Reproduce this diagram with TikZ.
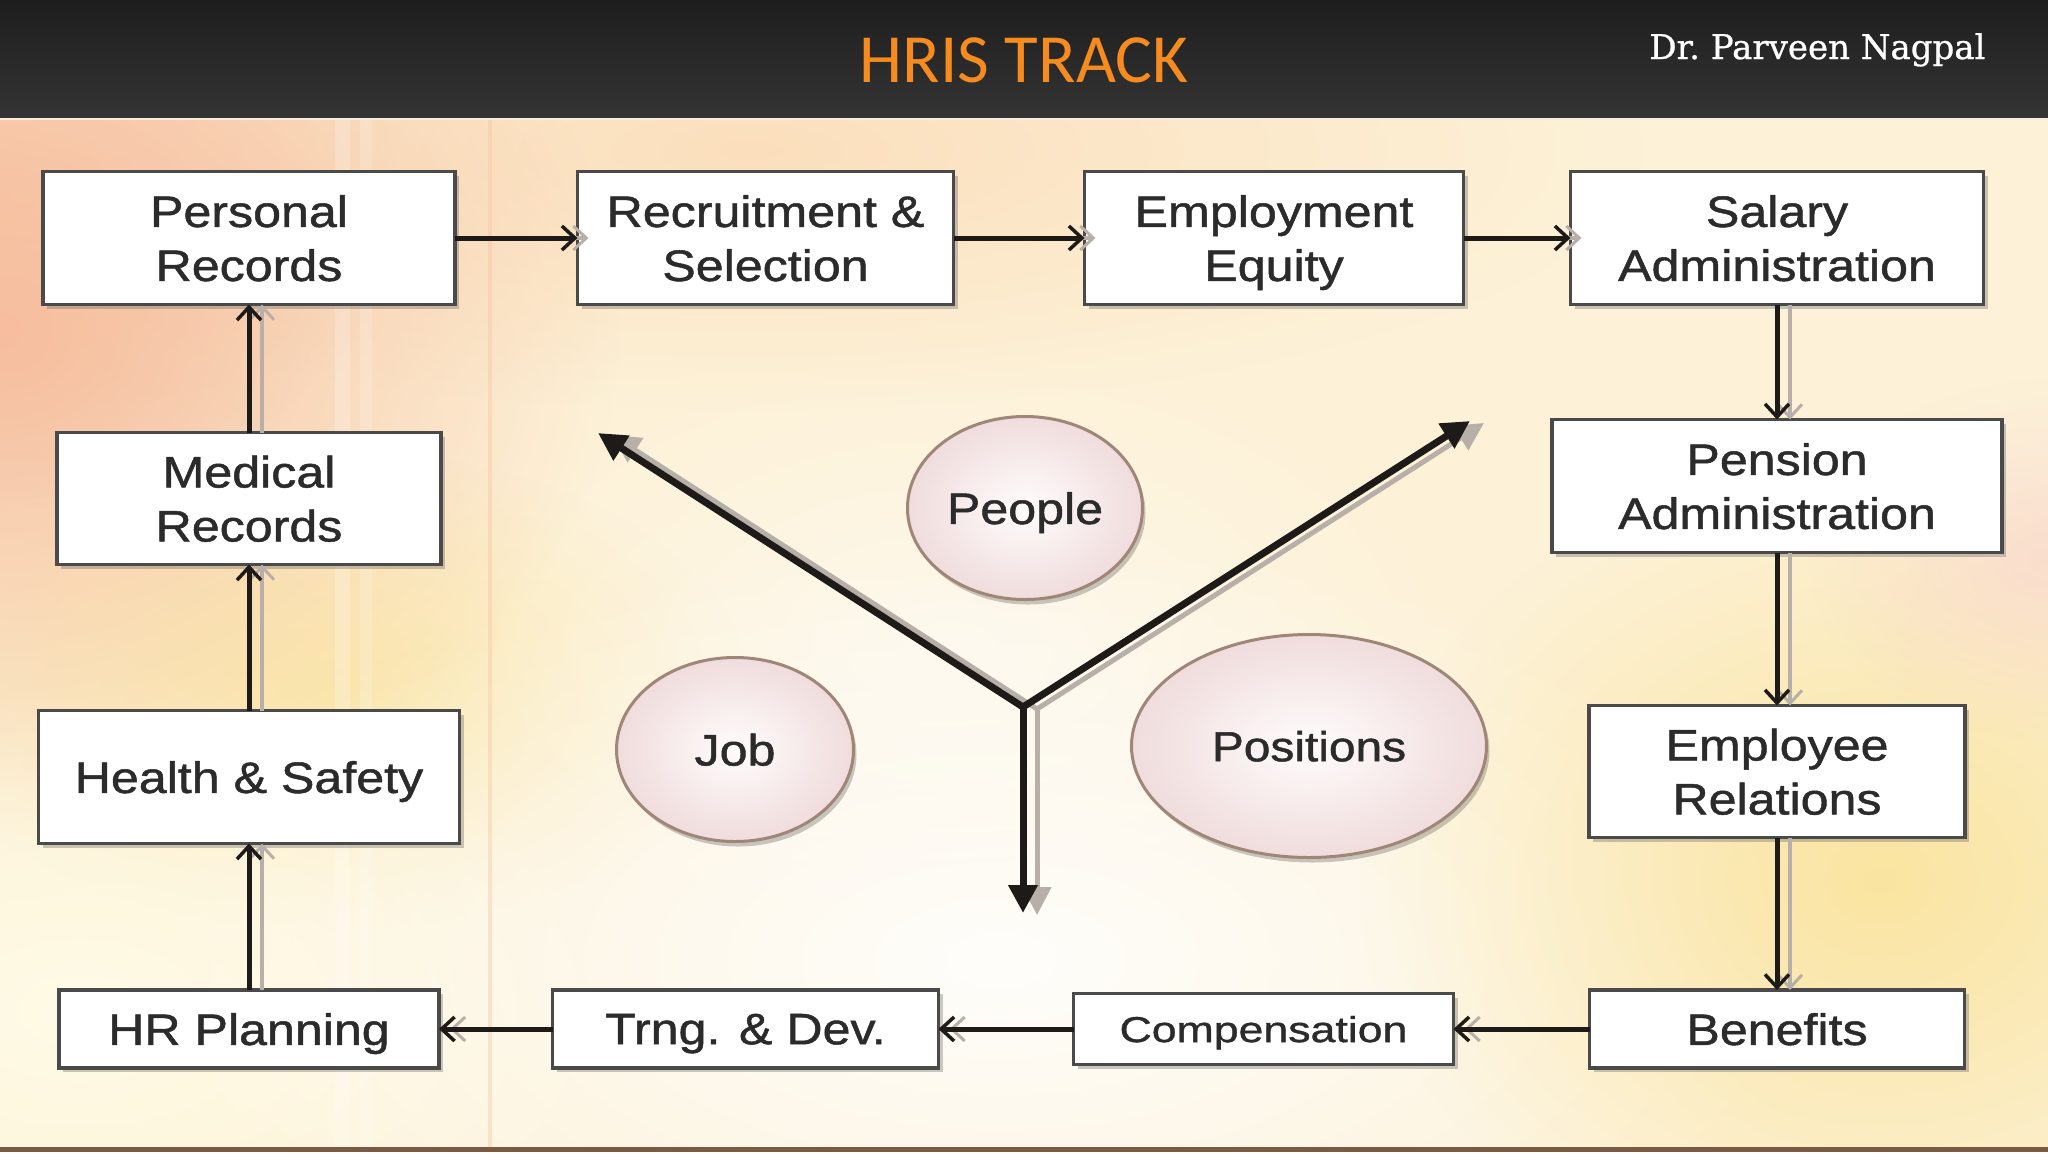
\documentclass[tikz,border=0pt]{standalone}
\usepackage{fontspec}
\usetikzlibrary{arrows.meta,shapes.geometric,shadows,fadings}
\newfontfamily\boxfont[FakeStretch=1.14,FakeBold=1.1]{Liberation Sans}
\newfontfamily\compfont[FakeStretch=1.24,FakeBold=1.1]{Liberation Sans}
\newfontfamily\titlefont{Carlito}
\newfontfamily\authfont[FakeBold=0.8]{DejaVu Serif}
\definecolor{hdtop}{HTML}{1E1E1E}
\definecolor{hdbot}{HTML}{343434}
\definecolor{titleor}{HTML}{F68B1F}
\definecolor{boxline}{HTML}{4A4A4A}
\definecolor{txt}{HTML}{2B2B2B}
\definecolor{conc}{HTML}{1E1A18}
\definecolor{shadc}{HTML}{B8B0A8}
\definecolor{platebd}{HTML}{A08676}
\definecolor{platein}{HTML}{FFFCFC}
\definecolor{plateout}{HTML}{F0DCDC}
\definecolor{bgbase}{HTML}{FDF2D8}
\definecolor{bgsalmon}{HTML}{F6BE9E}
\definecolor{bgpeach}{HTML}{FBDDBA}
\definecolor{bgcream}{HTML}{FFFBE6}
\definecolor{bgyel}{HTML}{F9E08E}
\definecolor{bgpink}{HTML}{F8D2CC}
\definecolor{bottomline}{HTML}{7A5A40}
\tikzfading[name=softglow, inner color=transparent!0, outer color=transparent!100]
\begin{document}
\begin{tikzpicture}[x=1pt,y=-1pt,
  box/.style={draw=boxline, line width=3.5pt, fill=white, inner sep=0pt, outer sep=0pt,
    text=txt, font=\boxfont\fontsize{44}{54}\selectfont, align=center, text depth=0pt,
    drop shadow={shadow xshift=4pt, shadow yshift=-4pt, fill=black!60, opacity=0.35}},
  plate/.style={ellipse, draw=platebd, line width=3pt, inner sep=0pt, outer sep=0pt,
    inner color=platein, outer color=plateout, text=txt, text depth=0pt,
    font=\boxfont\fontsize{44}{54}\selectfont,
    drop shadow={shadow xshift=3pt, shadow yshift=-5pt, fill=black!70, opacity=0.3}},
  con/.style={draw=conc, line width=5pt, -{Straight Barb[length=13pt,width=24pt,line width=3.5pt]}},
  hshadow/.style={draw=shadc, line width=4pt, -{Straight Barb[length=13pt,width=24pt,line width=3pt]},
    shorten <=14pt, transform canvas={xshift=11pt}},
  vshadow/.style={draw=shadc, line width=4pt, -{Straight Barb[length=13pt,width=24pt,line width=3pt]},
    transform canvas={xshift=13pt}},
  yarm/.style={draw=conc, line width=7pt},
  yshadow/.style={draw=shadc, line width=5pt, transform canvas={xshift=14pt,yshift=-2pt}}
]
\useasboundingbox (0,0) rectangle (2048,1152);
% header
\shade[top color=hdtop, bottom color=hdbot] (0,0) rectangle (2048,118);
% background
\fill[bgbase] (0,118) rectangle (2048,1147);
\begin{scope}
\clip (0,118) rectangle (2048,1147);
\fill[bgpeach, opacity=0.9, path fading=softglow] (750,150) ellipse (900 and 260);
\fill[bgsalmon, path fading=softglow] (0,330) ellipse (620 and 520);
\fill[bgsalmon, opacity=0.6, path fading=softglow] (0,200) ellipse (400 and 300);
\fill[bgyel, opacity=0.55, path fading=softglow] (330,690) ellipse (420 and 240);
\fill[bgcream, path fading=softglow] (80,1010) ellipse (560 and 320);
\fill[white, opacity=0.9, path fading=softglow] (1000,960) ellipse (850 and 420);
\fill[white, opacity=0.5, path fading=softglow] (950,650) ellipse (500 and 300);
\fill[bgyel, opacity=0.75, path fading=softglow] (1880,880) ellipse (520 and 420);
\fill[bgpink, opacity=0.6, path fading=softglow] (2048,560) ellipse (240 and 180);
\fill[white, opacity=0.22] (335,118) rectangle (350,1147);
\fill[white, opacity=0.18] (360,118) rectangle (372,1147);
\fill[bgsalmon, opacity=0.35] (488,118) rectangle (492,1147);
\end{scope}
\draw[white!85!brown, line width=2pt] (0,119) -- (2048,119);
\fill[bottomline] (0,1147) rectangle (2048,1152);
% title
\node[font=\titlefont\fontsize{69}{69}\selectfont, text=titleor, anchor=base] (title) at (1024,82) {HRIS TRACK};
\node[font=\authfont\fontsize{34}{34}\selectfont, text=white, anchor=base east] (author) at (1989,59) {Dr.\ Parveen Nagpal};
% boxes
\node[box, minimum width=412pt, minimum height=133pt] (pr) at (249,238) {Personal\\Records};
\node[box, minimum width=376pt, minimum height=133pt] (rs) at (765.5,238) {Recruitment \&\\Selection};
\node[box, minimum width=379pt, minimum height=133pt] (ee) at (1274,238) {Employment\\Equity};
\node[box, minimum width=413pt, minimum height=133pt] (sa) at (1777,238) {Salary\\Administration};
\node[box, minimum width=450pt, minimum height=133pt] (pa) at (1777,486) {Pension\\Administration};
\node[box, minimum width=376pt, minimum height=132pt] (er) at (1777,771.5) {Employee\\Relations};
\node[box, minimum width=375pt, minimum height=78pt] (be) at (1777,1029) {Benefits};
\node[box, minimum width=380pt, minimum height=71pt, font=\compfont\fontsize{36}{44}\selectfont] (co) at (1263.5,1029) {Compensation};
\node[box, minimum width=386pt, minimum height=78pt] (td) at (745.5,1029) {Trng. \& Dev.};
\node[box, minimum width=380pt, minimum height=78pt] (hp) at (249,1029) {HR Planning};
\node[box, minimum width=421pt, minimum height=133pt] (hs) at (249,777) {Health \& Safety};
\node[box, minimum width=384pt, minimum height=132pt] (mr) at (249,498.5) {Medical\\Records};
% plates
\node[plate, minimum width=235pt, minimum height=183pt] (people) at (1025,508) {People};
\node[plate, minimum width=237pt, minimum height=184pt] (job) at (735,749.5) {Job};
\node[plate, minimum width=355pt, minimum height=223pt, font=\boxfont\fontsize{42}{50}\selectfont] (pos) at (1309,746) {Positions};
% connectors: shadows
\draw[hshadow] (pr) -- (rs);
\draw[hshadow] (rs) -- (ee);
\draw[hshadow] (ee) -- (sa);
\draw[vshadow] (sa) -- (pa);
\draw[vshadow] (pa) -- (er);
\draw[vshadow] (er) -- (be);
\draw[hshadow] (be) -- (co);
\draw[hshadow] (co) -- (td);
\draw[hshadow] (td) -- (hp);
\draw[vshadow] (hp) -- (hs);
\draw[vshadow] (hs) -- (mr);
\draw[vshadow] (mr) -- (pr);
% connectors: main
\draw[con] (pr) -- (rs);
\draw[con] (rs) -- (ee);
\draw[con] (ee) -- (sa);
\draw[con] (sa) -- (pa);
\draw[con] (pa) -- (er);
\draw[con] (er) -- (be);
\draw[con] (be) -- (co);
\draw[con] (co) -- (td);
\draw[con] (td) -- (hp);
\draw[con] (hp) -- (hs);
\draw[con] (hs) -- (mr);
\draw[con] (mr) -- (pr);
% Y arrows
\coordinate (yc) at (1023,707);
\coordinate (yl) at (598,433);
\coordinate (yr) at (1470,421);
\coordinate (yd) at (1023,913);
\draw[yshadow, {Triangle[length=28pt,width=28pt]}-{Triangle[length=28pt,width=28pt]}] (yl) -- (yc) -- (yr);
\draw[yshadow, -{Triangle[length=28pt,width=28pt]}] (yc) -- (yd);
\draw[yarm, {Triangle[length=28pt,width=28pt]}-{Triangle[length=28pt,width=28pt]}] (yl) -- (yc) -- (yr);
\draw[yarm, -{Triangle[length=28pt,width=28pt]}] (yc) -- (yd);
\end{tikzpicture}
\end{document}
